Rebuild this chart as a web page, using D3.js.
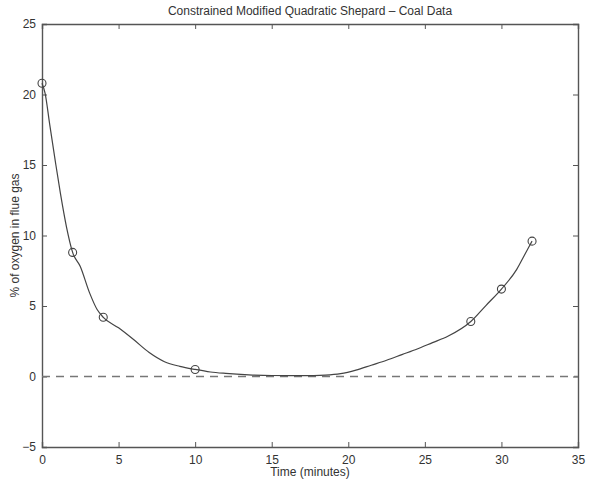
<!DOCTYPE html>
<html>
<head>
<meta charset="utf-8">
<script src="https://cdn.jsdelivr.net/npm/d3@7"></script>
<style>
  body { margin: 0; background: #fff; }
  text { font-family: "Liberation Sans", Arial, sans-serif; fill: #333; }
</style>
</head>
<body>
<script>
// Coal data samples (circles)
const sampleTime = [0, 2, 4, 10, 28, 30, 32];
const sampleOxygen = [20.8, 8.8, 4.2, 0.5, 3.9, 6.2, 9.6];

// Interpolant curve
const curveTime = [0, 0.2, 0.5, 0.85, 1.2, 1.6, 2, 2.5, 3.1, 3.6, 4, 5, 6, 7, 8, 9, 10, 11, 12, 13.5, 15, 17, 18.5, 19.5, 20.5, 21.5, 22.5, 23.5, 24.5, 25.5, 26.5, 28, 29, 30, 31, 31.5, 32];
const curveOxygen = [20.8, 20.1, 17.9, 15.4, 13.0, 10.6, 8.8, 7.8, 5.95, 4.75, 4.2, 3.45, 2.6, 1.7, 1.05, 0.72, 0.5, 0.32, 0.22, 0.12, 0.07, 0.06, 0.1, 0.2, 0.45, 0.8, 1.15, 1.55, 1.95, 2.4, 2.85, 3.9, 5.05, 6.2, 7.6, 8.6, 9.6];

const xTicks = [0, 5, 10, 15, 20, 25, 30, 35];
const yTicks = [-5, 0, 5, 10, 15, 20, 25];

const width = 596;
const height = 481;
const margin = {top: 24, right: 18, bottom: 34, left: 42};

const svg = d3.select('body').append('svg')
    .attr('width', width)
    .attr('height', height);

const x = d3.scaleLinear()
    .domain([0, 35])
    .range([margin.left, width - margin.right]);

const y = d3.scaleLinear()
    .domain([-5, 25])
    .range([height - margin.bottom, margin.top]);

const axisColor = '#555';

// Bottom / left axes with inward ticks (matlab style)
const bottomAxis = svg.append('g')
    .attr('transform', `translate(0,${y(-5)})`)
    .call(d3.axisBottom(x).tickValues(xTicks).tickSize(-5).tickPadding(8));
const leftAxis = svg.append('g')
    .attr('transform', `translate(${x(0)},0)`)
    .call(d3.axisLeft(y).tickValues(yTicks).tickSize(-5).tickPadding(6).tickFormat(d => d < 0 ? '\u2212' + Math.abs(d) : d));
// Top / right: ticks only
const topAxis = svg.append('g')
    .attr('transform', `translate(0,${y(25)})`)
    .call(d3.axisTop(x).tickValues(xTicks).tickSize(-5).tickFormat(''));
const rightAxis = svg.append('g')
    .attr('transform', `translate(${x(35)},0)`)
    .call(d3.axisRight(y).tickValues(yTicks).tickSize(-5).tickFormat(''));

[bottomAxis, leftAxis, topAxis, rightAxis].forEach(g => {
    g.selectAll('path.domain').attr('stroke', axisColor).attr('stroke-width', 1.4);
    g.selectAll('line').attr('stroke', axisColor);
    g.selectAll('text').attr('font-size', 12).attr('fill', '#333');
});

// zero reference line
svg.append('line')
    .attr('x1', x(0)).attr('x2', x(35))
    .attr('y1', y(0)).attr('y2', y(0))
    .attr('stroke', '#777')
    .attr('stroke-width', 1.5)
    .attr('stroke-dasharray', '8,6');

const curve = curveTime.map((t, i) => [t, curveOxygen[i]]);
const line = d3.line()
    .x(d => x(d[0]))
    .y(d => y(d[1]))
    .curve(d3.curveMonotoneX);

svg.append('path')
    .datum(curve)
    .attr('d', line)
    .attr('fill', 'none')
    .attr('stroke', '#444')
    .attr('stroke-width', 1.2);

svg.selectAll('circle')
    .data(sampleTime.map((t, i) => [t, sampleOxygen[i]]))
    .join('circle')
    .attr('cx', d => x(d[0]))
    .attr('cy', d => y(d[1]))
    .attr('r', 4)
    .attr('fill', 'none')
    .attr('stroke', '#444')
    .attr('stroke-width', 1.1);

// labels
svg.append('text')
    .attr('x', (x(0) + x(35)) / 2)
    .attr('y', 15)
    .attr('text-anchor', 'middle')
    .attr('font-size', 12)
    .text('Constrained Modified Quadratic Shepard \u2013 Coal Data');

svg.append('text')
    .attr('x', (x(0) + x(35)) / 2)
    .attr('y', 476)
    .attr('text-anchor', 'middle')
    .attr('font-size', 12)
    .text('Time (minutes)');

svg.append('text')
    .attr('transform', `translate(19,${(y(-5) + y(25)) / 2}) rotate(-90)`)
    .attr('text-anchor', 'middle')
    .attr('font-size', 12)
    .text('% of oxygen in flue gas');
</script>
</body>
</html>
